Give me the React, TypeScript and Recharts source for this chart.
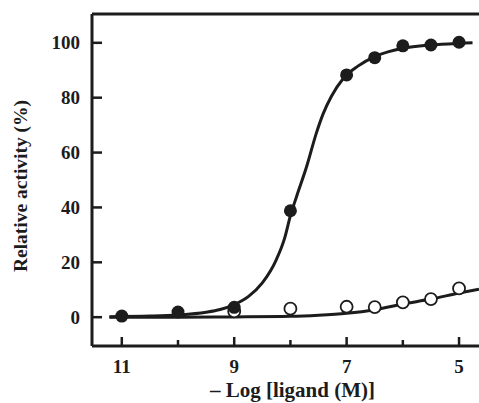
import { ComposedChart, Line, Scatter, XAxis, YAxis, ReferenceLine } from 'recharts';

// fitted curves
const fittedFilled = [
    { x: 11.22, y: 0.2 },
    { x: 10.5, y: 0.4 },
    { x: 10, y: 0.8 },
    { x: 9.5, y: 1.8 },
    { x: 9.25, y: 2.8 },
    { x: 9, y: 4.6 },
    { x: 8.75, y: 7.5 },
    { x: 8.5, y: 12.5 },
    { x: 8.25, y: 21 },
    { x: 8.1, y: 29 },
    { x: 8, y: 37 },
    { x: 7.89, y: 44 },
    { x: 7.71, y: 55 },
    { x: 7.54, y: 67 },
    { x: 7.42, y: 74 },
    { x: 7.27, y: 80.5 },
    { x: 7.06, y: 87 },
    { x: 6.8, y: 91.5 },
    { x: 6.5, y: 95 },
    { x: 6.25, y: 96.8 },
    { x: 6, y: 98 },
    { x: 5.5, y: 99.2 },
    { x: 5, y: 99.8 },
    { x: 4.76, y: 100 },
];

const fittedOpen = [
    { x: 11.22, y: 0 },
    { x: 10, y: 0 },
    { x: 9, y: 0.1 },
    { x: 8, y: 0.3 },
    { x: 7.5, y: 0.7 },
    { x: 7, y: 1.4 },
    { x: 6.5, y: 2.7 },
    { x: 6, y: 4.8 },
    { x: 5.5, y: 6.6 },
    { x: 5, y: 8.8 },
    { x: 4.645, y: 10.2 },
];

// measured points
const filledPoints = [
    { x: 11, y: 0.4 },
    { x: 10, y: 1.9 },
    { x: 9, y: 3.6 },
    { x: 8, y: 38.8 },
    { x: 7, y: 88.3 },
    { x: 6.5, y: 94.6 },
    { x: 6, y: 98.9 },
    { x: 5.5, y: 99.2 },
    { x: 5, y: 100.2 },
];

const openPoints = [
    { x: 9, y: 2.1 },
    { x: 8, y: 3.1 },
    { x: 7, y: 3.8 },
    { x: 6.5, y: 3.7 },
    { x: 6, y: 5.4 },
    { x: 5.5, y: 6.6 },
    { x: 5, y: 10.5 },
];

const xTicks = [5, 6, 7, 8, 9, 10, 11];
const yTicks = [0, 20, 40, 60, 80, 100];

const INK = '#1c1c1c';
const FONT = '"Liberation Serif", "Times New Roman", serif';

function XTick(props: any) {
    const { x, y, payload } = props;
    const major = payload.value % 2 === 1;
    return (
        <g>
            <line x1={x} x2={x} y1={y} y2={y - (major ? 9 : 6)} stroke={INK} strokeWidth={2.5} />
            {major && (
                <text x={x} y={y + 27} textAnchor="middle" fontFamily={FONT} fontWeight="bold" fontSize={19} fill={INK}>
                    {payload.value}
                </text>
            )}
        </g>
    );
}

function YTick(props: any) {
    const { x, y, payload } = props;
    return (
        <g>
            <line x1={x} x2={x + 10} y1={y} y2={y} stroke={INK} strokeWidth={2.5} />
            <text x={x - 12} y={y + 6.5} textAnchor="end" fontFamily={FONT} fontWeight="bold" fontSize={19} fill={INK}>
                {payload.value}
            </text>
        </g>
    );
}

const filledDot = (p: any) => <circle cx={p.cx} cy={p.cy} r={6.5} fill={INK} />;
const openDot = (p: any) => <circle cx={p.cx} cy={p.cy} r={6} fill="#fff" stroke={INK} strokeWidth={1.8} />;

export default function App() {
    return (
        <div style={{ position: 'absolute', left: 0, top: 0, width: 479, height: 403, overflow: 'hidden', background: '#fff' }}>
            <ComposedChart width={479} height={403} margin={{ top: 14, right: 0, bottom: 0, left: 0 }}>
                <XAxis
                    dataKey="x"
                    type="number"
                    domain={[4.645, 11.53]}
                    reversed
                    allowDataOverflow
                    ticks={xTicks}
                    interval={0}
                    height={57}
                    tickSize={0}
                    tickMargin={0}
                    tickLine={false}
                    axisLine={{ stroke: INK, strokeWidth: 3 }}
                    tick={<XTick />}
                    label={{
                        value: '– Log [ligand (M)]',
                        position: 'insideBottom',
                        offset: 6,
                        dx: 7,
                        style: { fontFamily: FONT, fontWeight: 'bold', fontSize: 21, fill: INK },
                    }}
                />
                <YAxis
                    dataKey="y"
                    type="number"
                    domain={[-10.5, 110.5]}
                    allowDataOverflow
                    ticks={yTicks}
                    interval={0}
                    width={92}
                    tickSize={0}
                    tickMargin={0}
                    tickLine={false}
                    axisLine={{ stroke: INK, strokeWidth: 3 }}
                    tick={<YTick />}
                    label={{
                        content: () => (
                            <text
                                x={27}
                                y={186}
                                transform="rotate(-90 27 186)"
                                textAnchor="middle"
                                fontFamily={FONT}
                                fontWeight="bold"
                                fontSize={19.5}
                                fill={INK}
                            >
                                Relative activity (%)
                            </text>
                        ),
                    }}
                />
                <ReferenceLine y={110.5} stroke={INK} strokeWidth={3} />
                <Line data={fittedFilled} dataKey="y" type="monotone" stroke={INK} strokeWidth={3} dot={false} isAnimationActive={false} />
                <Line data={fittedOpen} dataKey="y" type="monotone" stroke={INK} strokeWidth={3} dot={false} isAnimationActive={false} />
                <Scatter data={openPoints} dataKey="y" shape={openDot} isAnimationActive={false} />
                <Scatter data={filledPoints} dataKey="y" shape={filledDot} isAnimationActive={false} />
            </ComposedChart>
        </div>
    );
}
